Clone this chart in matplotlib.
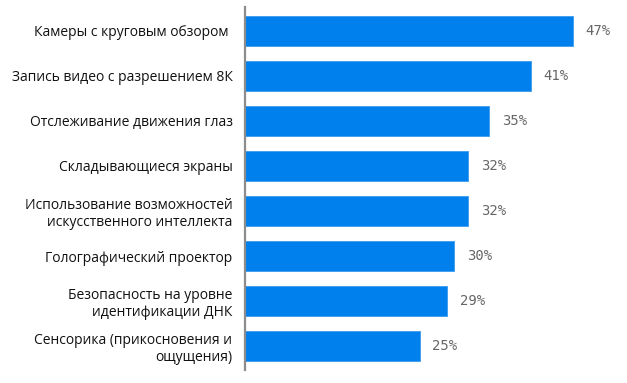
import matplotlib.pyplot as plt

labels = [
    "Камеры с круговым обзором ",
    "Запись видео с разрешением 8К",
    "Отслеживание движения глаз",
    "Складывающиеся экраны",
    "Использование возможностей\nискусственного интеллекта",
    "Голографический проектор",
    "Безопасность на уровне\nидентификации ДНК",
    "Сенсорика (прикосновения и\nощущения)",
]
values = [47, 41, 35, 32, 32, 30, 29, 25]

W, H = 627, 383
fig = plt.figure(figsize=(W / 100, H / 100), dpi=100)
ax = fig.add_axes([245 / W, 1 - 370 / H, (W - 245) / W, 363 / H])

pos = list(range(len(values)))
ax.barh(pos, values, height=0.67, color="#0080ec", edgecolor="#3a9af0", linewidth=0.6)
ax.set_ylim(7.533, -0.533)
ax.set_xlim(0, (W - 245) / 6.98)

for y, v in zip(pos, values):
    ax.text(v + 1.8, y, f"{v}%", va="center", ha="left",
            fontsize=10, color="#666666", family="DejaVu Sans Mono")

ax.set_yticks(pos)
ax.set_yticklabels(labels, fontsize=10, family="Open Sans", color="#111111", linespacing=1.2)
ax.tick_params(axis="y", length=0, pad=9)
ax.set_xticks([])
for s in ["top", "right", "bottom"]:
    ax.spines[s].set_visible(False)
ax.spines["left"].set_color("#8c8c8c")
ax.spines["left"].set_linewidth(1.6)

fig.savefig("out.png", dpi=100)
